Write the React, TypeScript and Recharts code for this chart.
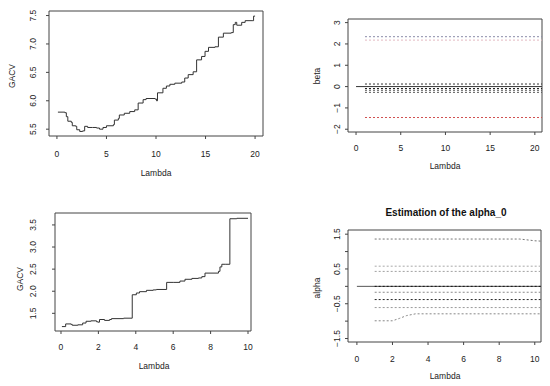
import React from 'react';
import { LineChart, Line, XAxis, YAxis, ReferenceArea } from 'recharts';

const FONT = "'Liberation Sans', Arial, Helvetica, sans-serif";

// ---------- Panel 1 : GACV vs Lambda (0..20) ----------
const gacv1Lambda = [0.1, 0.8, 0.95, 1.1, 1.45, 1.55, 1.9, 2.0, 2.3, 2.6, 2.8, 3.1, 3.6, 4.0, 4.3, 4.65, 5.0, 5.7, 5.8, 6.2, 6.3, 6.8, 7.35, 7.85, 8.2, 8.7, 9.0, 9.9, 10.05, 10.15, 10.7, 11.05, 11.4, 11.9, 12.6, 12.9, 13.25, 13.75, 14.1, 14.6, 14.95, 15.3, 15.95, 16.3, 16.8, 17.6, 17.8, 18.0, 18.15, 18.65, 19.0, 19.7, 19.85, 20.0];
const gacv1Values = [5.80, 5.79, 5.72, 5.64, 5.62, 5.56, 5.55, 5.49, 5.46, 5.47, 5.55, 5.53, 5.53, 5.52, 5.50, 5.53, 5.56, 5.58, 5.66, 5.69, 5.75, 5.78, 5.81, 5.84, 5.96, 6.02, 6.04, 6.03, 6.00, 6.14, 6.22, 6.26, 6.29, 6.31, 6.33, 6.40, 6.46, 6.51, 6.72, 6.78, 6.87, 6.94, 6.95, 7.12, 7.19, 7.20, 7.34, 7.38, 7.33, 7.38, 7.41, 7.41, 7.49, 7.49];
const p1XTicks = [0, 5, 10, 15, 20];
const p1YTicks = [5.5, 6.0, 6.5, 7.0, 7.5];
const p1YTickLabels = ['5.5', '6.0', '6.5', '7.0', '7.5'];

// ---------- Panel 2 : beta vs Lambda ----------
const betaZeroLambda = [0, 20.8];
const betaZeroValues = [0, 0];
const betaLambda = [1, 20.8];
const betaLevels = [2.34, 2.18, 0.12, -0.09, -0.17, -0.27, -1.45];
const betaColors = ['#8a8aa8', '#e2b8c0', '#333333', '#222222', '#444444', '#555555', '#d05050'];
const p2XTicks = [0, 5, 10, 15, 20];
const p2YTicks = [-2, -1, 0, 1, 2, 3];
const p2YTickLabels = ['\u22122', '\u22121', '0', '1', '2', '3'];

// ---------- Panel 3 : GACV vs Lambda (0..10) ----------
const gacv3Lambda = [0.05, 0.25, 0.54, 0.6, 0.9, 1.16, 1.34, 1.6, 1.9, 1.97, 2.06, 2.33, 2.6, 2.7, 3.35, 3.81, 4.03, 4.2, 4.57, 4.93, 5.1, 5.65, 6.0, 6.36, 6.63, 7.0, 7.35, 7.53, 7.7, 8.42, 8.5, 8.6, 8.78, 9.03, 9.4, 10.0];
const gacv3Values = [1.20, 1.26, 1.25, 1.23, 1.24, 1.28, 1.32, 1.33, 1.31, 1.30, 1.36, 1.34, 1.36, 1.38, 1.39, 1.92, 1.96, 1.99, 2.02, 2.03, 2.04, 2.20, 2.20, 2.23, 2.27, 2.29, 2.30, 2.33, 2.41, 2.45, 2.55, 2.61, 2.61, 3.64, 3.65, 3.65];
const p3XTicks = [0, 2, 4, 6, 8, 10];
const p3YTicks = [1.5, 2.0, 2.5, 3.0, 3.5];
const p3YTickLabels = ['1.5', '2.0', '2.5', '3.0', '3.5'];

// ---------- Panel 4 : alpha vs Lambda ----------
const alphaZeroLambda = [0, 10.35];
const alphaZeroValues = [0, 0];
const alphaFlatLambda = [1, 10.35];
const alphaFlatLevels = [0.58, 0.43, 0.0, -0.17, -0.38, -0.61];
const alphaFlatColors = ['#a8a8a8', '#a0a0a0', '#111111', '#888888', '#222222', '#999999'];
const alphaTopLambda = [1, 9.15, 9.5, 10.0, 10.35];
const alphaTopValues = [1.36, 1.36, 1.34, 1.31, 1.30];
const alphaLowLambda = [1, 2.0, 2.4, 2.8, 3.3, 10.35];
const alphaLowValues = [-0.99, -0.99, -0.92, -0.84, -0.79, -0.79];
const p4XTicks = [0, 2, 4, 6, 8, 10];
const p4YTicks = [-1.5, -1.0, -0.5, 0, 0.5, 1.0, 1.5];
const p4YTickLabels = ['\u22121.5', '', '\u22120.5', '', '0.5', '', '1.5'];

const zip = (xs: number[], ys: number[]) => xs.map((x, i) => ({ x, y: ys[i] }));

type Series = { data: { x: number; y: number }[]; stroke: string; dash?: string; step?: boolean; width?: number };

type PanelProps = {
  box: { left: number; top: number; right: number; bottom: number };
  xDomain: [number, number];
  yDomain: [number, number];
  xTicks: number[];
  yTicks: number[];
  yTickLabels: string[];
  xLabelY: number;
  yLabelX: number;
  series: Series[];
};

const W = 550;
const H = 386;
const YW = 20;
const XH = 20;
const FS = 8.5;

function Panel(p: PanelProps) {
  const margin = {
    top: p.box.top,
    left: p.box.left - YW,
    right: W - p.box.right,
    bottom: H - p.box.bottom - XH,
  };
  const XTick = (props: any) => {
    const { x, payload } = props;
    return (
      <text x={x} y={p.xLabelY} textAnchor="middle" dominantBaseline="central" fontSize={FS} fontFamily={FONT} fill="#222">
        {String(payload.value)}
      </text>
    );
  };
  const YTick = (props: any) => {
    const { y, payload } = props;
    const idx = p.yTicks.indexOf(payload.value);
    const label = idx >= 0 ? p.yTickLabels[idx] : '';
    if (!label) return <g />;
    return (
      <text
        x={p.yLabelX}
        y={y}
        transform={`rotate(-90 ${p.yLabelX} ${y})`}
        textAnchor="middle"
        dominantBaseline="central"
        fontSize={FS}
        fontFamily={FONT}
        fill="#222"
      >
        {label}
      </text>
    );
  };
  return (
    <div style={{ position: 'absolute', left: 0, top: 0, width: W, height: H }}>
      <LineChart width={W} height={H} margin={margin}>
        <XAxis
          type="number"
          dataKey="x"
          domain={p.xDomain}
          ticks={p.xTicks}
          allowDataOverflow
          axisLine={false}
          tickLine={{ stroke: '#444' }}
          tickSize={3}
          height={XH}
          tick={XTick}
          interval={0}
        />
        <YAxis
          type="number"
          dataKey="y"
          domain={p.yDomain}
          ticks={p.yTicks}
          allowDataOverflow
          axisLine={false}
          tickLine={{ stroke: '#444' }}
          tickSize={3}
          width={YW}
          tick={YTick}
          interval={0}
        />
        <ReferenceArea
          x1={p.xDomain[0]}
          x2={p.xDomain[1]}
          y1={p.yDomain[0]}
          y2={p.yDomain[1]}
          fill="none"
          fillOpacity={0}
          stroke="#444"
          strokeWidth={1}
          ifOverflow="visible"
        />
        {p.series.map((s, i) => (
          <Line
            key={i}
            data={s.data}
            dataKey="y"
            type={s.step ? 'stepAfter' : 'linear'}
            stroke={s.stroke}
            strokeWidth={s.width ?? 1}
            strokeDasharray={s.dash}
            dot={false}
            activeDot={false}
            isAnimationActive={false}
          />
        ))}
      </LineChart>
    </div>
  );
}

export default function App() {
  const dash = '2 2';
  const panel2Series: Series[] = [
    { data: zip(betaZeroLambda, betaZeroValues), stroke: '#333' },
    ...betaLevels.map((lv, i) => ({
      data: zip(betaLambda, betaLambda.map(() => lv)),
      stroke: betaColors[i],
      dash,
    })),
  ];
  const panel4Series: Series[] = [
    { data: zip(alphaZeroLambda, alphaZeroValues), stroke: '#555' },
    { data: zip(alphaTopLambda, alphaTopValues), stroke: '#777', dash },
    ...alphaFlatLevels.map((lv, i) => ({
      data: zip(alphaFlatLambda, alphaFlatLambda.map(() => lv)),
      stroke: alphaFlatColors[i],
      dash,
    })),
    { data: zip(alphaLowLambda, alphaLowValues), stroke: '#888', dash },
  ];
  const txt = { fontSize: FS, fontFamily: FONT, fill: '#222' } as const;
  return (
    <div style={{ position: 'absolute', left: 0, top: 0, width: W, height: H, background: '#fff', overflow: 'hidden' }}>
      <Panel
        box={{ left: 49, top: 11, right: 263, bottom: 136 }}
        xDomain={[-0.8, 20.8]}
        yDomain={[5.38, 7.58]}
        xTicks={p1XTicks}
        yTicks={p1YTicks}
        yTickLabels={p1YTickLabels}
        xLabelY={154}
        yLabelX={33}
        series={[{ data: zip(gacv1Lambda, gacv1Values), stroke: '#333', step: true }]}
      />
      <Panel
        box={{ left: 348, top: 19, right: 542, bottom: 132 }}
        xDomain={[-0.9, 20.8]}
        yDomain={[-2.13, 3.17]}
        xTicks={p2XTicks}
        yTicks={p2YTicks}
        yTickLabels={p2YTickLabels}
        xLabelY={148}
        yLabelX={337}
        series={panel2Series}
      />
      <Panel
        box={{ left: 55, top: 213, right: 251, bottom: 331 }}
        xDomain={[-0.32, 10.16]}
        yDomain={[1.1, 3.77]}
        xTicks={p3XTicks}
        yTicks={p3YTicks}
        yTickLabels={p3YTickLabels}
        xLabelY={347}
        yLabelX={33}
        series={[{ data: zip(gacv3Lambda, gacv3Values), stroke: '#333', step: true }]}
      />
      <Panel
        box={{ left: 348, top: 230, right: 541, bottom: 342 }}
        xDomain={[-0.5, 10.35]}
        yDomain={[-1.6, 1.62]}
        xTicks={p4XTicks}
        yTicks={p4YTicks}
        yTickLabels={p4YTickLabels}
        xLabelY={359}
        yLabelX={337}
        series={panel4Series}
      />
      <svg width={W} height={H} style={{ position: 'absolute', left: 0, top: 0, pointerEvents: 'none' }}>
        <text x={156} y={173} textAnchor="middle" dominantBaseline="central" {...txt}>Lambda</text>
        <text x={12} y={76} textAnchor="middle" dominantBaseline="central" transform="rotate(-90 12 76)" {...txt}>GACV</text>
        <text x={445} y={166} textAnchor="middle" dominantBaseline="central" {...txt}>Lambda</text>
        <text x={317} y={76} textAnchor="middle" dominantBaseline="central" transform="rotate(-90 317 76)" {...txt}>beta</text>
        <text x={154} y={366} textAnchor="middle" dominantBaseline="central" {...txt}>Lambda</text>
        <text x={20} y={279} textAnchor="middle" dominantBaseline="central" transform="rotate(-90 20 279)" {...txt}>GACV</text>
        <text x={445} y={376} textAnchor="middle" dominantBaseline="central" {...txt}>Lambda</text>
        <text x={317} y={288} textAnchor="middle" dominantBaseline="central" transform="rotate(-90 317 288)" {...txt}>alpha</text>
        <text x={446} y={212} textAnchor="middle" dominantBaseline="central" fontSize={10} fontWeight="bold" fontFamily={FONT} fill="#111">Estimation of the alpha_0</text>
      </svg>
    </div>
  );
}
